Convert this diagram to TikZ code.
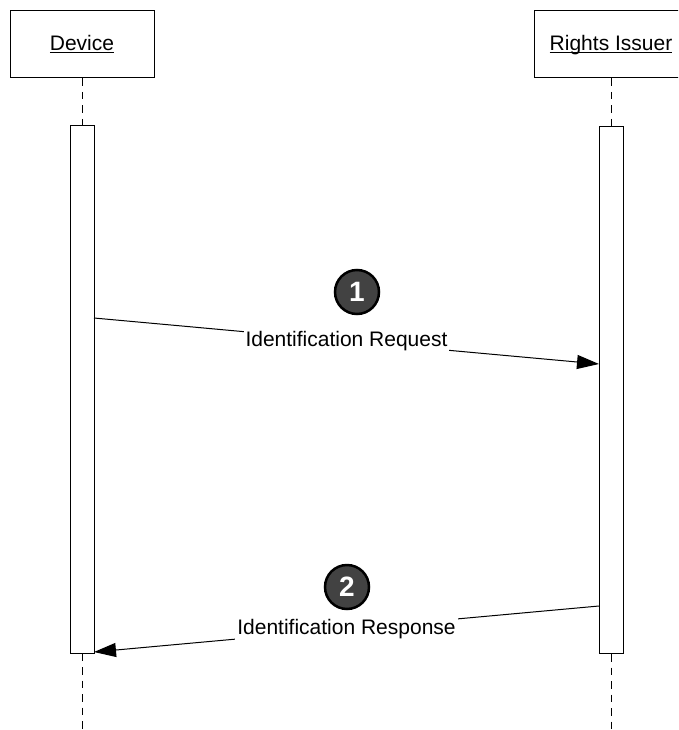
\documentclass[tikz,border=0pt]{standalone}
\usepackage{fontspec}
\setmainfont{Liberation Sans}
\usetikzlibrary{arrows.meta}
\definecolor{numbergray}{RGB}{66,66,66}
\newcommand{\labelfont}{\fontsize{21}{25}\selectfont}
\newcommand{\numberfont}{\bfseries\fontsize{28}{30}\selectfont}
\newcommand{\ulabel}[1]{\setbox0\hbox{#1}\rlap{\rule[-2.5pt]{\wd0}{1.2pt}}\box0}
\tikzset{
  objectbox/.style={draw, line width=1pt, minimum height=67pt, inner sep=0pt,
    text height=17pt, text depth=4pt, font=\labelfont},
  activation/.style={draw, line width=1pt, fill=white, minimum width=24pt,
    minimum height=527pt, inner sep=0pt},
  lifeline/.style={line width=1pt, dash pattern=on 7.5pt off 6pt},
  message/.style={line width=1pt, -{Triangle[length=22pt,width=14pt]}},
  msglabel/.style={fill=white, inner sep=2pt, font=\labelfont},
  stepnumber/.style={circle, draw, line width=2.5pt, fill=numbergray, text=white,
    minimum size=44pt, inner sep=0pt, font=\numberfont}
}
\begin{document}
\begin{tikzpicture}[x=1pt,y=-1pt]
\clip (0,0) rectangle (678,730);
\node[objectbox, minimum width=144pt] (device) at (82,44.5) {\ulabel{Device}};
\node[objectbox, minimum width=154pt] (issuer) at (611,44.5) {\ulabel{Rights Issuer}};
\node[activation] (devbar) at (82,389.5) {};
\node[activation] (issbar) at (611,390) {};
\coordinate (devend) at (82,730);
\coordinate (issend) at (611,730);
\draw[lifeline] (device.south) -- (devbar.north);
\draw[lifeline] (devbar.south) -- (devend);
\draw[lifeline] (issuer.south) -- (issbar.north);
\draw[lifeline] (issbar.south) -- (issend);
\coordinate (reqfrom) at (94,318);
\coordinate (reqto) at (599,364);
\coordinate (resfrom) at (599,606);
\coordinate (resto) at (94,652);
\draw[message] (reqfrom) -- node[msglabel] (reqlabel) {Identification Request} (reqto);
\draw[message] (resfrom) -- node[msglabel] (reslabel) {Identification Response} (resto);
\node[stepnumber] (step1) at (357,292) {1};
\node[stepnumber] (step2) at (347,587) {2};
\end{tikzpicture}
\end{document}
